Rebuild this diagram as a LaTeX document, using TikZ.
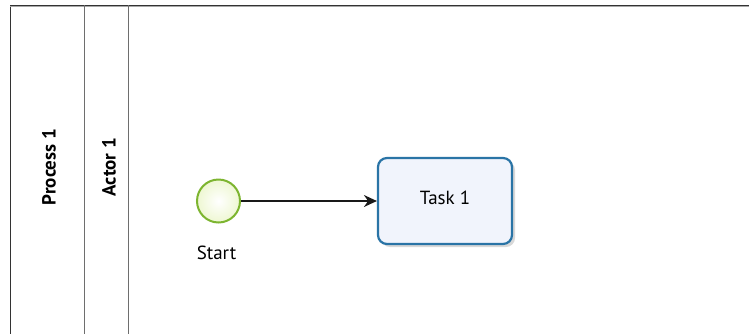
\documentclass[tikz,border=0pt]{standalone}
\usepackage{fontspec}
\setmainfont{PT Sans}
\usetikzlibrary{arrows.meta,shadows}
\definecolor{lanecol}{HTML}{6E6E6E}
\definecolor{evstroke}{HTML}{7DB530}
\definecolor{evfill}{HTML}{EEF7D2}
\definecolor{taskstroke}{HTML}{2A74A6}
\definecolor{taskfill}{HTML}{F1F4FC}
\tikzset{
  lane/.style={draw=lanecol, line width=1pt},
  startev/.style={circle, draw=evstroke, line width=2pt, inner sep=0pt, minimum size=43pt,
    inner color=white, outer color=evfill},
  taskbox/.style={rectangle, rounded corners=9pt, draw=taskstroke, line width=2.2pt, fill=taskfill,
    minimum width=134pt, minimum height=86pt, text depth=6pt, font=\fontsize{19}{22}\selectfont,
    drop shadow={shadow xshift=3pt, shadow yshift=-3pt, opacity=0.25, fill=black!60}},
  flow/.style={draw=black!90, line width=1.3pt, -{Stealth[length=13pt,width=12pt]}},
  lbl/.style={font=\fontsize{19}{22}\selectfont},
  hdr/.style={font=\bfseries\fontsize{19}{22}\selectfont, rotate=90}
}
\begin{document}
\begin{tikzpicture}[x=1pt,y=-1pt]
\useasboundingbox (0,0) rectangle (749,333);
\fill[white] (0,0) rectangle (749,333);
% pool / lanes
\draw[lane, draw=black!80] (10,334) -- (10,5) -- (750,5);
\draw[lanecol!60, line width=1pt] (10,6.5) -- (750,6.5);
\draw[lane] (84,5) -- (84,334);
\draw[lane] (128,5) -- (128,334);
\node[hdr] (proc) at (49,167) {Process 1};
\node[hdr] (actor) at (109,167) {Actor 1};
% elements
\node[startev] (start) at (218.5,201) {};
\node[lbl] (startlabel) at (216.5,253) {Start};
\node[taskbox] (task) at (445,201) {Task 1};
\draw[flow] (start) -- (task);
\end{tikzpicture}
\end{document}
